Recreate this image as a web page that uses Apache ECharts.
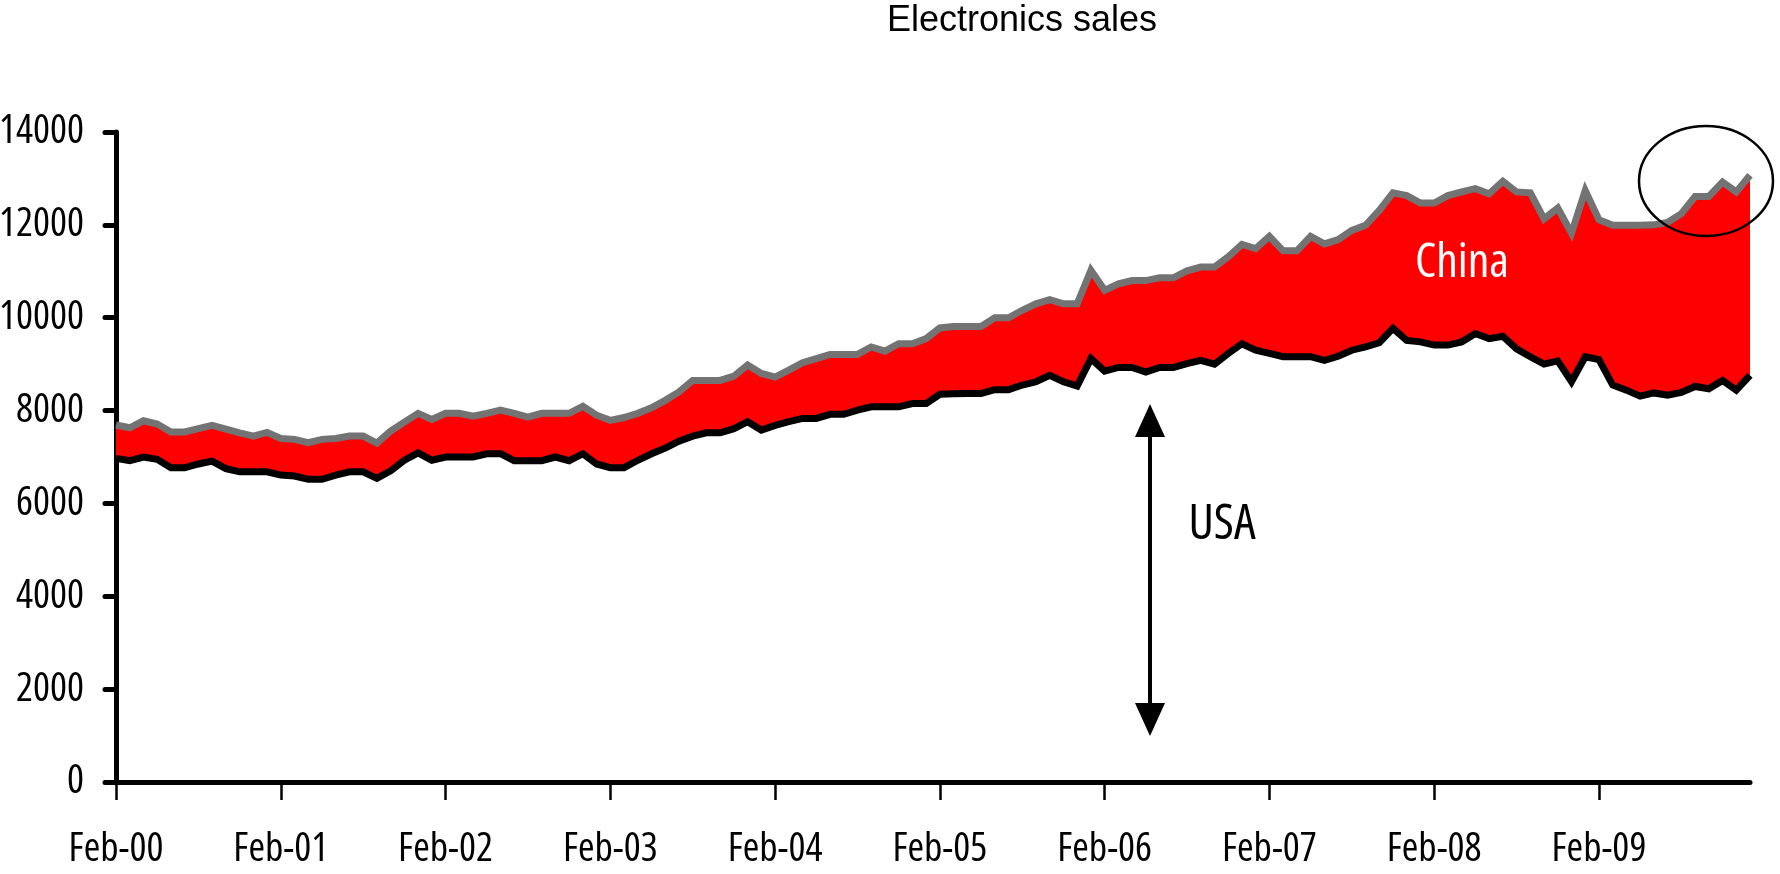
<!DOCTYPE html>
<html>
<head>
<meta charset="utf-8">
<script src="https://cdn.jsdelivr.net/npm/echarts@6/dist/echarts.min.js"></script>
<style>
  html, body { margin: 0; padding: 0; background: #fff; }
  #chart { width: 1780px; height: 874px; }
</style>
</head>
<body>
<div id="chart"></div>
<script>
// ---- Data (monthly, Feb-00 .. Jan-10) ----
const monthNames = ['Jan','Feb','Mar','Apr','May','Jun','Jul','Aug','Sep','Oct','Nov','Dec'];
const startMonth = 1;   // Feb
const startYear = 0;    // 2000
const monthCount = 120;

// USA sales (black line, bottom of the red band)
const usa = [
  6970, 6920, 7000, 6950, 6770, 6770, 6850, 6910, 6750, 6680, 6680, 6680,
  6610, 6590, 6520, 6520, 6610, 6680, 6680, 6540, 6700, 6930, 7090, 6930,
  7000, 7000, 7000, 7070, 7070, 6920, 6920, 6920, 7000, 6920, 7070, 6850,
  6770, 6770, 6930, 7070, 7190, 7340, 7450, 7520, 7520, 7610, 7760, 7580,
  7680, 7760, 7830, 7830, 7920, 7920, 8010, 8080, 8080, 8080, 8150, 8150,
  8350, 8360, 8370, 8370, 8450, 8450, 8550, 8620, 8760, 8620, 8530, 9120,
  8850, 8930, 8930, 8830, 8930, 8930, 9010, 9080, 9000, 9230, 9440, 9300,
  9230, 9160, 9160, 9160, 9080, 9170, 9300, 9370, 9460, 9770, 9510, 9480,
  9410, 9410, 9480, 9660, 9550, 9600, 9330, 9160, 9000, 9070, 8620, 9160,
  9100, 8550, 8440, 8310, 8380, 8330, 8390, 8520, 8470, 8650, 8440, 8760
];

// USA + China total (grey line, top of the red band)
const total = [
  7690, 7630, 7780, 7710, 7540, 7540, 7610, 7680, 7600, 7520, 7450, 7530,
  7400, 7380, 7310, 7380, 7400, 7450, 7450, 7300, 7560, 7750, 7940, 7810,
  7940, 7940, 7880, 7940, 8010, 7940, 7860, 7940, 7940, 7940, 8090, 7900,
  7790, 7850, 7940, 8060, 8220, 8400, 8650, 8650, 8650, 8740, 8980, 8800,
  8720, 8870, 9030, 9120, 9210, 9210, 9210, 9370, 9280, 9440, 9440, 9550,
  9780, 9810, 9810, 9810, 10000, 10000, 10160, 10300, 10390, 10300, 10300, 11020,
  10590, 10730, 10800, 10800, 10860, 10860, 11010, 11090, 11090, 11310, 11580, 11490,
  11750, 11440, 11440, 11750, 11590, 11680, 11880, 11990, 12310, 12690, 12630, 12470,
  12470, 12630, 12710, 12780, 12670, 12940, 12710, 12690, 12130, 12360, 11820, 12740,
  12110, 11990, 11990, 11990, 12000, 12050, 12240, 12610, 12610, 12920, 12710, 13070
];

const yTicks = [0, 2000, 4000, 6000, 8000, 10000, 12000, 14000];

// category labels like "Feb-00"
const categories = [];
for (let k = 0; k < monthCount; k++) {
  const m = (startMonth + k) % 12;
  const y = startYear + Math.floor((startMonth + k) / 12);
  categories.push(monthNames[m] + '-' + String(y).padStart(2, '0'));
}
// China = gap between total and USA (stacked on USA)
const china = total.map((t, i) => t - usa[i]);

// ---- pick the narrowest available sans font (reference uses a narrow face) ----
function pickNarrowFont() {
  const ctx = document.createElement('canvas').getContext('2d');
  const probe = 'abcdefghijklmnopqrstuvwxyz0123456789';
  function w(font, txt) { ctx.font = font; return ctx.measureText(txt).width; }
  function exists(fam) {
    return w('100px ' + fam + ', monospace', probe) !== w('100px monospace', probe) ||
           w('100px ' + fam + ', serif', probe) !== w('100px serif', probe);
  }
  const cands = [
    { style: 'normal', family: '"Liberation Sans Narrow"' },
    { style: 'normal', family: '"Arial Narrow"' },
    { style: 'normal', family: '"DejaVu Sans Condensed"' },
    { style: 'condensed', family: '"Open Sans"' },
    { style: 'condensed', family: '"Noto Sans"' },
    { style: 'condensed', family: 'Roboto' },
    { style: 'normal', family: '"Liberation Sans"' }
  ];
  let best = { style: 'normal', family: '"Liberation Sans", Arial, sans-serif', ratio: 2.78 };
  let bestScore = Infinity;
  cands.forEach(c => {
    if (!exists(c.family)) return;
    const font = (c.style === 'normal' ? '' : c.style + ' ') + '100px ' + c.family + ', monospace';
    const ratio = w(font, '14000') / 100;
    const score = Math.abs(ratio - 2.28);
    if (score < bestScore) { bestScore = score; best = { style: c.style, family: c.family + ', sans-serif', ratio: ratio }; }
  });
  return best;
}
const NF = pickNarrowFont();
// label size: compromise between reference glyph height (~38px) and width of "14000" (~80px)
const LBL = Math.round(1.04 * Math.sqrt(38.5 * 80 / NF.ratio));
const K = LBL / 36.7;

const chart = echarts.init(document.getElementById('chart'), null, { renderer: 'canvas' });
chart.setOption({
  animation: false,
  backgroundColor: '#ffffff',
  grid: { left: 116, right: 30, top: 132, bottom: 92, containLabel: false, outerBoundsMode: 'none' },
  xAxis: {
    type: 'category',
    data: categories,
    boundaryGap: false,
    axisLine: { lineStyle: { color: '#000', width: 5 } },
    axisTick: { interval: 11, length: 18, lineStyle: { color: '#000', width: 2.5 } },
    axisLabel: {
      interval: 11, margin: 48, color: '#000', fontSize: LBL,
      fontStyle: NF.style, fontFamily: NF.family
    },
    splitLine: { show: false }
  },
  yAxis: {
    type: 'value',
    min: yTicks[0],
    max: yTicks[yTicks.length - 1],
    interval: 2000,
    axisLine: { show: true, lineStyle: { color: '#000', width: 5 } },
    axisTick: { show: true, length: 11, lineStyle: { color: '#000', width: 5, cap: 'round' } },
    axisLabel: {
      margin: 32, color: '#000', fontSize: LBL,
      fontStyle: NF.style, fontFamily: NF.family,
      padding: [0, 0, 10, 0],
      formatter: v => String(v)
    },
    splitLine: { show: false }
  },
  series: [
    {
      name: 'USA',
      type: 'line',
      stack: 'sales',
      data: usa,
      symbol: 'none',
      z: 4,
      lineStyle: { color: '#000000', width: 7, join: 'miter' }
    },
    {
      name: 'China',
      type: 'line',
      stack: 'sales',
      data: china,
      symbol: 'none',
      z: 3,
      lineStyle: { color: '#737373', width: 7, join: 'miter' },
      areaStyle: { color: '#FF0000', opacity: 1 }
    }
  ],
  graphic: [
    {
      type: 'text', x: 1022, y: 21, z: 10,
      style: { text: 'Electronics sales', fill: '#000', fontSize: 36,
               fontFamily: '"Liberation Sans", Arial, sans-serif',
               textAlign: 'center', textVerticalAlign: 'middle' }
    },
    {
      type: 'text', x: 1462, y: 263, z: 10,
      style: { text: 'China', fill: '#fff', fontSize: Math.round(44 * K),
               fontStyle: NF.style, fontFamily: NF.family,
               textAlign: 'center', textVerticalAlign: 'middle' }
    },
    {
      type: 'text', x: 1222, y: 525, z: 10,
      style: { text: 'USA', fill: '#000', fontSize: Math.round(45 * K),
               fontStyle: NF.style, fontFamily: NF.family,
               textAlign: 'center', textVerticalAlign: 'middle' }
    },
    {
      type: 'line', z: 10,
      shape: { x1: 1150, y1: 430, x2: 1150, y2: 712 },
      style: { stroke: '#000', lineWidth: 4 }
    },
    {
      type: 'polygon', z: 10,
      shape: { points: [[1150, 404], [1135, 437], [1165, 437]] },
      style: { fill: '#000' }
    },
    {
      type: 'polygon', z: 10,
      shape: { points: [[1150, 736], [1135, 703], [1165, 703]] },
      style: { fill: '#000' }
    },
    {
      type: 'ellipse', z: 10,
      shape: { cx: 1706, cy: 181, rx: 67, ry: 55 },
      style: { fill: 'none', stroke: '#000', lineWidth: 2.5 }
    }
  ]
});
</script>
</body>
</html>
